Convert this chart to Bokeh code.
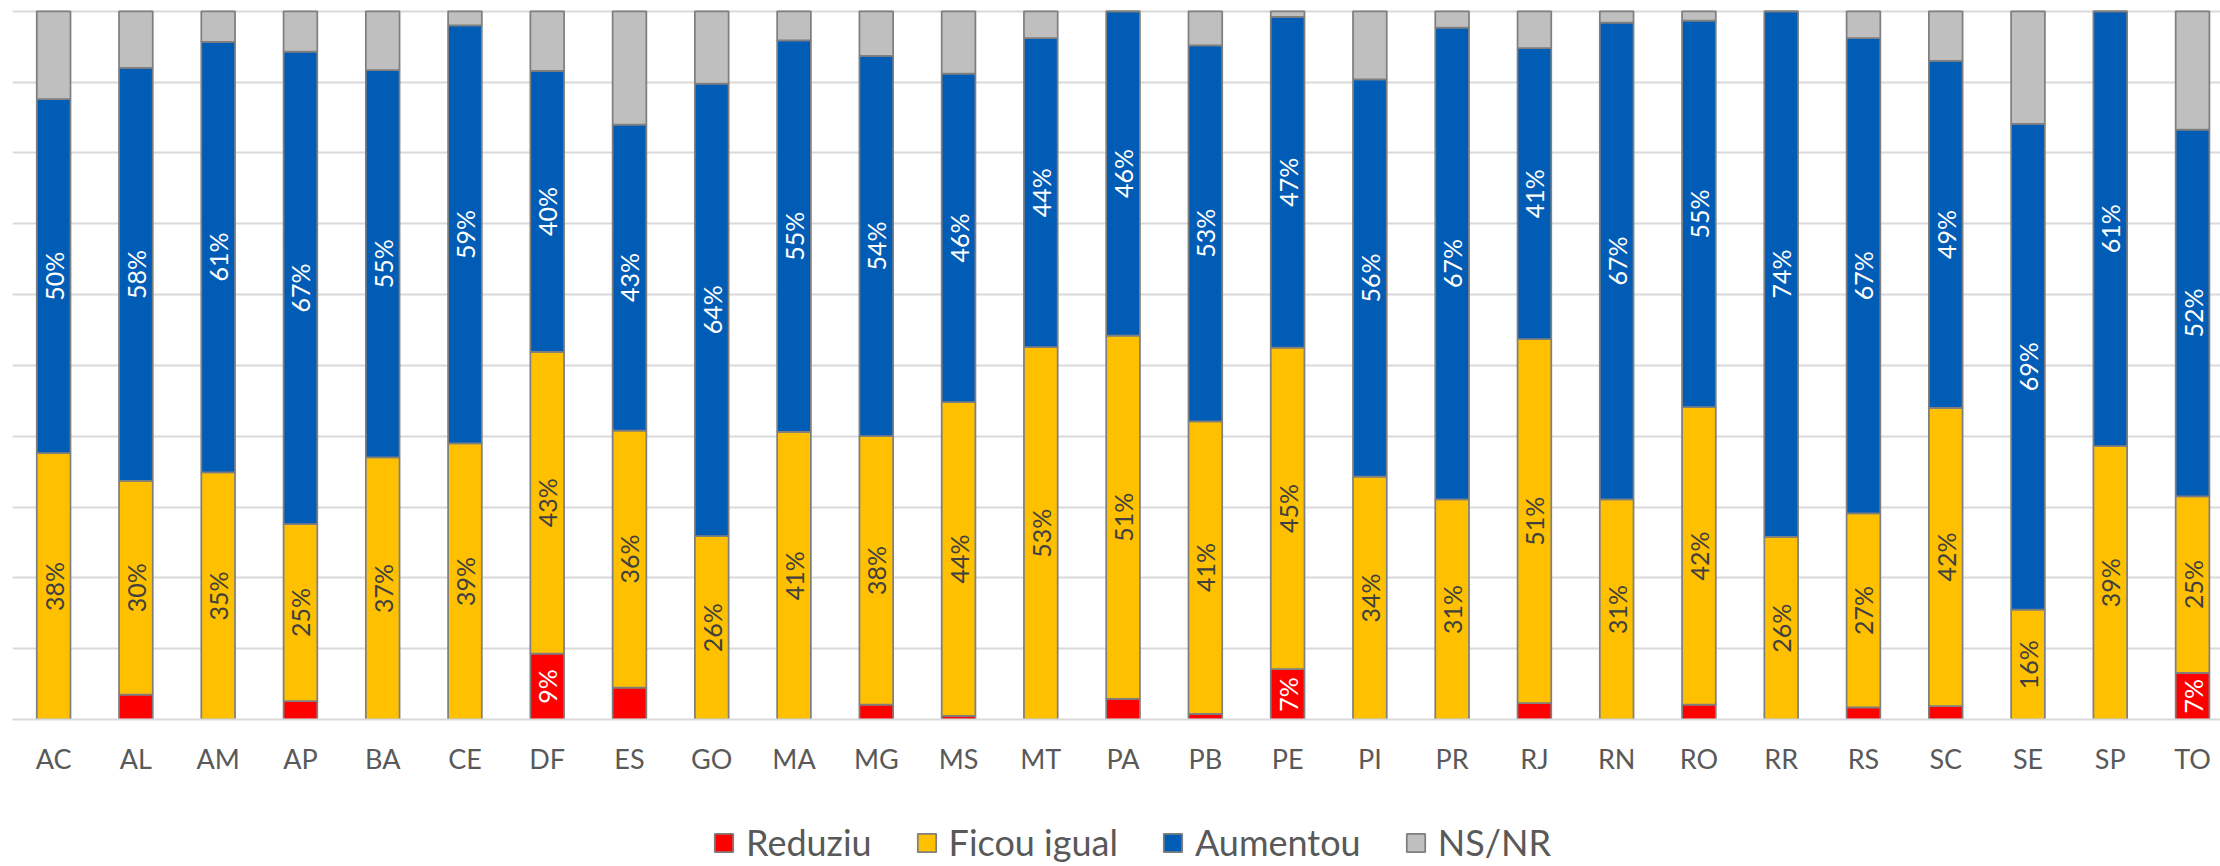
import numpy as np
from bokeh.plotting import figure
from bokeh.layouts import column
from bokeh.models import ColumnDataSource, Range1d, FixedTicker, Legend, LegendItem, VBar
from bokeh.core.properties import value
from bokeh.embed import file_html
from bokeh.resources import INLINE

# ---- data (percent) ----
states = ["AC", "AL", "AM", "AP", "BA", "CE", "DF", "ES", "GO", "MA", "MG", "MS", "MT", "PA",
          "PB", "PE", "PI", "PR", "RJ", "RN", "RO", "RR", "RS", "SC", "SE", "SP", "TO"]
reduziu = [0, 3.5, 0, 2.6, 0, 0, 9.3, 4.5, 0, 0, 2.1, 0.5, 0, 2.9,
           0.8, 7.1, 0, 0, 2.3, 0, 2.1, 0, 1.7, 1.9, 0, 0, 6.6]
ficou_igual = [37.6, 30.2, 34.9, 25.0, 37.0, 39.0, 42.6, 36.3, 25.9, 40.6, 37.9, 44.3, 52.6, 51.3,
               41.3, 45.4, 34.3, 31.1, 51.4, 31.1, 42.0, 25.8, 27.4, 42.1, 15.5, 38.6, 24.9]
aumentou = [50.0, 58.3, 60.8, 66.7, 54.7, 59.0, 39.7, 43.2, 63.9, 55.3, 53.7, 46.4, 43.6, 45.8,
            53.1, 46.7, 56.1, 66.6, 41.1, 67.3, 54.6, 74.2, 67.1, 49.0, 68.6, 61.4, 51.8]
ns_nr = [12.4, 8.0, 4.3, 5.7, 8.3, 2.0, 8.4, 16.0, 10.2, 4.1, 6.3, 8.8, 3.8, 0.0,
         4.8, 0.8, 9.6, 2.3, 5.2, 1.6, 1.3, 0.0, 3.8, 7.0, 15.9, 0.0, 16.7]
series_names = ["Reduziu", "Ficou igual", "Aumentou", "NS/NR"]

colors = ["#FF0000", "#FFC000", "#015CB6", "#BFBFBF"]
label_colors = ["#FFFFFF", "#404040", "#FFFFFF", None]
label_min = [5, 0, 0, None]
FONT = "Lato"
EDGE = "#7F7F7F"

series = [reduziu, ficou_igual, aumentou, ns_nr]
keys = ["r", "f", "a", "n"]
xs = list(range(len(states)))

data = {"x": xs}
for k, vals in zip(keys, series):
    data[k] = [v / 100.0 for v in vals]
source = ColumnDataSource(data)

W = 2220
H1, H2 = 820, 46

p = figure(width=W, height=H1, output_backend="svg", toolbar_location=None,
           x_range=Range1d(-0.5, 26.34), y_range=Range1d(0, 1.004),
           y_axis_location=None,
           min_border_left=12, min_border_right=0, min_border_top=8, min_border_bottom=H1 - 719)
p.outline_line_color = None
p.background_fill_color = "white"
p.border_fill_color = "white"

renderers = p.vbar_stack(keys, x="x", width=0.41, fill_color=colors,
                         line_color=EDGE, line_width=1.75, source=source)

# grid
p.xgrid.visible = False
p.ygrid.ticker = FixedTicker(ticks=[i / 10 for i in range(11)])
p.ygrid.grid_line_color = "#D9D9D9"
p.ygrid.grid_line_width = 2

# x axis
ax = p.xaxis[0]
ax.ticker = FixedTicker(ticks=xs)
ax.major_label_overrides = {i: s for i, s in zip(xs, states)}
ax.axis_line_color = "#D9D9D9"
ax.axis_line_width = 2
ax.major_tick_line_color = None
ax.minor_tick_line_color = None
ax.major_label_text_font = FONT
ax.major_label_text_font_size = "27px"
ax.major_label_text_color = "#595959"
ax.major_label_standoff = 16

# data labels
lx, ly, lt, lc = [], [], [], []
for i in xs:
    base = 0.0
    for vals, col, thr in zip(series, label_colors, label_min):
        v = vals[i]
        if col is not None and v > 0 and v >= thr:
            lx.append(i)
            ly.append((base + v / 2) / 100.0)
            lt.append(f"{round(v)}%")
            lc.append(col)
        base += v
lsrc = ColumnDataSource(dict(x=lx, y=ly, t=lt, c=lc))
p.text(x="x", y="y", text="t", text_color="c", angle=np.pi / 2, text_align="center",
       text_baseline="middle", text_font=value(FONT), text_font_size="25px", source=lsrc)

# legend strip (separate figure directly below). The swatch renderers are drawn with an
# invisible selection glyph so only their legend entries show.
p2 = figure(width=W, height=H2, output_backend="svg", toolbar_location=None,
            x_range=Range1d(0, 1), y_range=Range1d(0, 1),
            x_axis_location=None, y_axis_location=None, min_border=0)
p2.outline_line_color = None
p2.xgrid.visible = False
p2.ygrid.visible = False
swatch_src = ColumnDataSource(dict(x=[0.5], top=[-5.0], bottom=[-6.0]))
swatch_src.selected.indices = [0]
dummy = []
for c in colors:
    r = p2.vbar(x="x", top="top", bottom="bottom", width=0.01, fill_color=c,
                line_color=EDGE, line_width=1.75, source=swatch_src)
    hidden = VBar(x="x", top="top", bottom="bottom", width=0.01,
                  fill_alpha=0, line_alpha=0)
    r.selection_glyph = hidden
    r.nonselection_glyph = hidden
    dummy.append(r)
legend = Legend(items=[LegendItem(label=n, renderers=[r]) for n, r in zip(series_names, dummy)],
                orientation="horizontal", location=(700, 2),
                glyph_width=23, glyph_height=23, label_standoff=11, spacing=43,
                padding=0, margin=0, border_line_color=None, background_fill_alpha=0,
                label_text_font=FONT, label_text_font_size="36px", label_text_color="#595959")
p2.add_layout(legend)

layout = column(p, p2, spacing=0)
open("out.html", "w").write(file_html(layout, INLINE))
